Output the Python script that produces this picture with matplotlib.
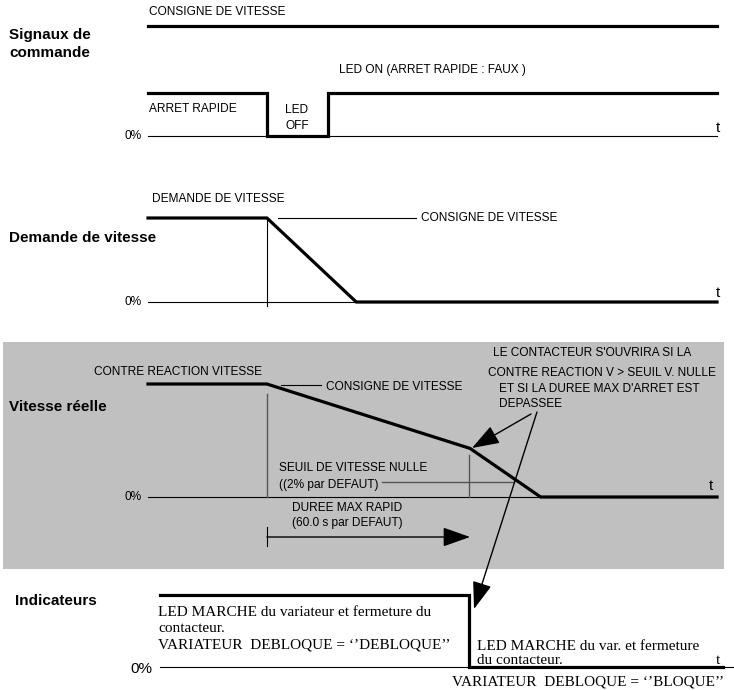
import matplotlib.pyplot as plt
from matplotlib.patches import Rectangle

# time axis in % of the time span shown (0 = start of trace, 100 = end)
t_start = 0
t_stop = 20.9          # fast stop requested
t_led_on = 31.6        # fast stop released
t_demand_zero = 36.6   # speed demand reaches 0%
t_kink = 56.6          # max stop time reached
t_fb_zero = 69.0       # feedback reaches 0%
t_contactor = 56.4     # run LED off, contactor opens
t_end = 100

# signal levels (1 = high, 0 = 0%)
setpoint_times = [t_start, t_end]
setpoint_levels = [1, 1]

fast_stop_times = [t_start, t_stop, t_stop, t_led_on, t_led_on, t_end]
fast_stop_levels = [1, 1, 0, 0, 1, 1]

demand_times = [t_start, t_stop, t_demand_zero, t_end]
demand_levels = [1, 1, 0, 0]

feedback_times = [t_start, t_stop, t_kink, t_fb_zero, t_end]
feedback_levels = [1, 1, 0.43, 0, 0]
zero_threshold_level = 0.13

indicator_times = [2.1, t_contactor, t_contactor, 101]
indicator_levels = [1, 1, 0, 0]

# layout: pixel of t=0 and pixels per time unit
X0, XS = 148, 5.69
W, H = 734, 690


def tx(px):
    return (px - X0) / XS


def lvl(levels, base, high):
    return [base - v * (base - high) for v in levels]


fig = plt.figure(figsize=(W / 100, H / 100), dpi=100)
ax = fig.add_axes([0, 0, 1, 1])
ax.set_xlim(tx(0), tx(W))
ax.set_ylim(H, 0)
ax.axis('off')

sans = 'Liberation Sans'
serif = 'Liberation Serif'
small = dict(fontsize=8.6, family=sans, va='center')
title = dict(fontsize=11, family=sans, fontweight='bold', va='center')
thick = dict(color='black', lw=2.3, solid_joinstyle='miter', zorder=3)
thin = dict(color='black', lw=0.8, zorder=2)
grey = dict(color='#555555', lw=1.0, zorder=2)
arrow = dict(arrowstyle='-|>,head_length=0.85,head_width=0.3',
             mutation_scale=20, color='black', lw=1.0, shrinkA=0, shrinkB=0)

# grey panel behind the actual speed
ax.add_patch(Rectangle((tx(3), 342), 721 / XS, 227, facecolor='#c0c0c0',
                       edgecolor='none', zorder=0))

# ---- Signaux de commande
ax.text(tx(9), 35, 'Signaux de', **title)
ax.text(tx(9), 53, 'commande', **title)
ax.text(tx(149), 12, 'CONSIGNE DE VITESSE', **small)
ax.plot(setpoint_times, lvl(setpoint_levels, 26, 26), **thick)

ax.text(tx(339), 70, 'LED ON (ARRET RAPIDE : FAUX )', **small)
ax.plot([t_start, t_end], [136, 136], **thin)
ax.plot(fast_stop_times, lvl(fast_stop_levels, 136, 93), **thick)
ax.text(tx(149), 109, 'ARRET RAPIDE', **small)
ax.text(tx(297), 110, 'LED', ha='center', **small)
ax.text(tx(297), 126, 'OFF', ha='center', **small)
ax.text(tx(142), 136, '0%', ha='right', **small)
ax.text(tx(718), 128, 't', ha='center', fontsize=11, family=sans, va='center')

# ---- Demande de vitesse
ax.text(tx(9), 238, 'Demande de vitesse', **title)
ax.text(tx(152), 199, 'DEMANDE DE VITESSE', **small)
ax.plot([t_start, t_end], [302, 302], **thin)
ax.plot(demand_times, lvl(demand_levels, 302, 218), **thick)
ax.plot([t_stop, t_stop], [218, 306], **thin)
ax.plot([tx(278), tx(416)], [218, 218], **thin)
ax.text(tx(421), 218, 'CONSIGNE DE VITESSE', **small)
ax.text(tx(142), 302, '0%', ha='right', **small)
ax.text(tx(718), 293, 't', ha='center', fontsize=11, family=sans, va='center')

# ---- Vitesse reelle
fb_base, fb_high = 497, 384
ax.text(tx(9), 407, 'Vitesse réelle', **title)
ax.text(tx(178), 372, 'CONTRE REACTION VITESSE', ha='center', **small)
ax.plot([t_start, t_end], [fb_base, fb_base], **thin)
ax.plot(feedback_times, lvl(feedback_levels, fb_base, fb_high), **thick)
ax.plot([t_stop, t_stop], [394, fb_base], **grey)
ax.plot([tx(469), tx(469)], [455, fb_base], **grey)
ax.plot([tx(281), tx(321)], [385, 385], **thin)
ax.text(tx(326), 387, 'CONSIGNE DE VITESSE', **small)
thr_y = lvl([zero_threshold_level], fb_base, fb_high)[0]
ax.plot([tx(382), tx(514)], [thr_y, thr_y], **grey)
ax.text(tx(279), 468, 'SEUIL DE VITESSE NULLE', **small)
ax.text(tx(279), 485, '((2% par DEFAUT)', **small)
ax.text(tx(142), fb_base, '0%', ha='right', **small)
ax.text(tx(711), 486, 't', ha='center', fontsize=11, family=sans, va='center')

ax.text(tx(347), 508, 'DUREE MAX RAPID', ha='center', **small)
ax.text(tx(347), 523, '(60.0 s par DEFAUT)', ha='center', **small)
ax.plot([t_stop, t_stop], [527, 546], **thin)
ax.annotate('', xy=(t_kink, 537), xytext=(t_stop, 537), arrowprops=arrow)

ax.text(tx(592), 353, "LE CONTACTEUR S'OUVRIRA SI LA", ha='center', **small)
ax.text(tx(602), 373, 'CONTRE REACTION V > SEUIL V. NULLE', ha='center', **small)
ax.text(tx(499), 389, "ET SI LA DUREE MAX D'ARRET EST", **small)
ax.text(tx(499), 404, 'DEPASSEE', **small)
ax.annotate('', xy=(tx(472), 448), xytext=(tx(531), 414),
            arrowprops=arrow, zorder=4)
ax.annotate('', xy=(tx(474), 609), xytext=(tx(537), 412),
            arrowprops=arrow, zorder=4)

# ---- Indicateurs
ax.text(tx(15), 601, 'Indicateurs', **title)
ax.plot([tx(160), tx(733)], [667, 667], **thin)
ax.plot(indicator_times, lvl(indicator_levels, 667, 595), **thick)
ax.text(tx(152), 669, '0%', ha='right', fontsize=11, family=sans, va='center')
serif_kw = dict(fontsize=11, family=serif, va='center')
ax.text(tx(158), 613, 'LED MARCHE du variateur et fermeture du', **serif_kw)
ax.text(tx(158), 629, 'contacteur.', **serif_kw)
ax.text(tx(158), 645, 'VARIATEUR  DEBLOQUE = \u2018\u2019DEBLOQUE\u2019\u2019', **serif_kw)
ax.text(tx(477), 646, 'LED MARCHE du var. et fermeture', **serif_kw)
ax.text(tx(477), 660, 'du contacteur.', **serif_kw)
ax.text(tx(718), 660, 't', ha='center', **serif_kw)
ax.text(tx(588), 682, 'VARIATEUR  DEBLOQUE = \u2018\u2019BLOQUE\u2019\u2019', ha='center', **serif_kw)

fig.savefig('out.png', dpi=100)
